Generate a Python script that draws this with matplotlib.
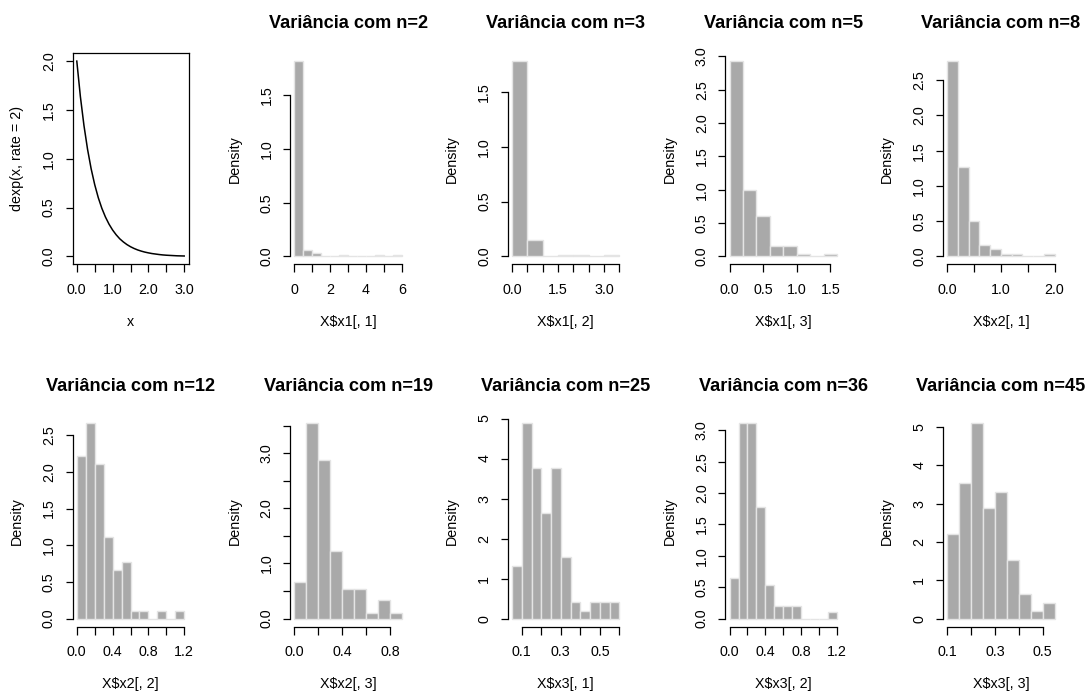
import matplotlib

matplotlib.use("Agg")
import matplotlib.pyplot as plt
import numpy as np

plt.rcParams["font.family"] = ["Liberation Sans", "DejaVu Sans"]

# --- data ------------------------------------------------------------------
# panel 1: curve dexp(x, rate = 2)
curve_x = [0.0, 0.1, 0.2, 0.3, 0.4, 0.5, 0.6, 0.7, 0.8, 0.9, 1.0,
           1.1, 1.2, 1.3, 1.4, 1.5, 1.6, 1.7, 1.8, 1.9, 2.0,
           2.1, 2.2, 2.3, 2.4, 2.5, 2.6, 2.7, 2.8, 2.9, 3.0]
curve_y = [2.000, 1.637, 1.341, 1.098, 0.899, 0.736, 0.602, 0.493, 0.404, 0.331, 0.271,
           0.222, 0.181, 0.149, 0.122, 0.100, 0.082, 0.067, 0.055, 0.045, 0.037,
           0.030, 0.025, 0.020, 0.016, 0.013, 0.011, 0.009, 0.007, 0.006, 0.005]

# histogram panels: sample size, bin edges, densities, x label
sizes = [2, 3, 5, 8, 12, 19, 25, 36, 45]
xlabels = ["X$x1[, 1]", "X$x1[, 2]", "X$x1[, 3]", "X$x2[, 1]", "X$x2[, 2]",
           "X$x2[, 3]", "X$x3[, 1]", "X$x3[, 2]", "X$x3[, 3]"]

edges_n2 = [0.0, 0.5, 1.0, 1.5, 2.0, 2.5, 3.0, 3.5, 4.0, 4.5, 5.0, 5.5, 6.0]
dens_n2 = [1.82, 0.062, 0.037, 0, 0, 0.01, 0, 0, 0, 0.01, 0, 0.01]

edges_n3 = [0.0, 0.5, 1.0, 1.5, 2.0, 2.5, 3.0, 3.5]
dens_n3 = [1.78, 0.153, 0, 0.01, 0.01, 0, 0.01]

edges_n5 = [0.0, 0.2, 0.4, 0.6, 0.8, 1.0, 1.2, 1.4, 1.6]
dens_n5 = [2.93, 0.99, 0.60, 0.16, 0.16, 0.04, 0, 0.04]

edges_n8 = [0.0, 0.2, 0.4, 0.6, 0.8, 1.0, 1.2, 1.4, 1.6, 1.8, 2.0]
dens_n8 = [2.77, 1.27, 0.50, 0.16, 0.10, 0.04, 0.04, 0, 0, 0.04]

edges_n12 = [0.0, 0.1, 0.2, 0.3, 0.4, 0.5, 0.6, 0.7, 0.8, 0.9, 1.0, 1.1, 1.2]
dens_n12 = [2.22, 2.66, 2.11, 1.11, 0.66, 0.77, 0.11, 0.11, 0, 0.11, 0, 0.11]

edges_n19 = [0.0, 0.1, 0.2, 0.3, 0.4, 0.5, 0.6, 0.7, 0.8, 0.9]
dens_n19 = [0.66, 3.54, 2.87, 1.22, 0.54, 0.54, 0.10, 0.33, 0.10]

edges_n25 = [0.05, 0.10, 0.15, 0.20, 0.25, 0.30, 0.35, 0.40, 0.45, 0.50, 0.55, 0.60]
dens_n25 = [1.32, 4.88, 3.76, 2.64, 3.76, 1.54, 0.42, 0.20, 0.42, 0.42, 0.42]

edges_n36 = [0.0, 0.1, 0.2, 0.3, 0.4, 0.5, 0.6, 0.7, 0.8, 0.9, 1.0, 1.1, 1.2]
dens_n36 = [0.65, 3.11, 3.11, 1.77, 0.54, 0.20, 0.20, 0.20, 0, 0, 0, 0.10]

edges_n45 = [0.10, 0.15, 0.20, 0.25, 0.30, 0.35, 0.40, 0.45, 0.50, 0.55]
dens_n45 = [2.21, 3.54, 5.10, 2.88, 3.32, 1.54, 0.65, 0.19, 0.42]

all_edges = [edges_n2, edges_n3, edges_n5, edges_n8, edges_n12,
             edges_n19, edges_n25, edges_n36, edges_n45]
all_dens = [dens_n2, dens_n3, dens_n5, dens_n8, dens_n12,
            dens_n19, dens_n25, dens_n36, dens_n45]

# axis ticks (R style: every tick drawn, some labels dropped for overlap)
xticks = [np.arange(0, 6.01, 1), np.arange(0, 3.51, 0.5), np.arange(0, 1.51, 0.5),
          np.arange(0, 2.01, 0.5), np.arange(0, 1.21, 0.2), np.arange(0, 0.81, 0.2),
          np.arange(0.1, 0.61, 0.1), np.arange(0, 1.21, 0.2), np.arange(0.1, 0.51, 0.1)]
xticklabels = [["0", "", "2", "", "4", "", "6"],
               ["0.0", "", "", "1.5", "", "", "3.0", ""],
               ["0.0", "0.5", "1.0", "1.5"],
               ["0.0", "", "1.0", "", "2.0"],
               ["0.0", "", "0.4", "", "0.8", "", "1.2"],
               ["0.0", "", "0.4", "", "0.8"],
               ["0.1", "", "0.3", "", "0.5", ""],
               ["0.0", "", "0.4", "", "0.8", "", "1.2"],
               ["0.1", "", "0.3", "", "0.5"]]
yticks = [np.arange(0, 1.51, 0.5), np.arange(0, 1.51, 0.5), np.arange(0, 3.01, 0.5),
          np.arange(0, 2.51, 0.5), np.arange(0, 2.51, 0.5), np.arange(0, 3.51, 0.5),
          np.arange(0, 5.01, 1), np.arange(0, 3.01, 0.5), np.arange(0, 5.01, 1)]
yticklabels = [["0.0", "0.5", "1.0", "1.5"],
               ["0.0", "0.5", "1.0", "1.5"],
               ["0.0", "0.5", "1.0", "1.5", "2.0", "2.5", "3.0"],
               ["0.0", "0.5", "1.0", "1.5", "2.0", "2.5"],
               ["0.0", "0.5", "1.0", "1.5", "2.0", "2.5"],
               ["0.0", "", "1.0", "", "2.0", "", "3.0", ""],
               ["0", "1", "2", "3", "4", "5"],
               ["0.0", "0.5", "1.0", "1.5", "2.0", "2.5", "3.0"],
               ["0", "1", "2", "3", "4", "5"]]

# --- layout ----------------------------------------------------------------
W, H = 1086, 693
fig = plt.figure(figsize=(W / 100, H / 100), dpi=100)

FS = 10.3
LW = 0.9
BAR = "#a9a9a9"
EDGE = "#e4e4e4"


def panel_axes(i):
    row, col = divmod(i, 5)
    left = 72.5 + 217.6 * col
    top = 53.3 + 362.2 * row
    return fig.add_axes([left / W, 1 - (top + 211) / H, 116 / W, 211 / H])


def r_range(lo, hi):
    pad = 0.04 * (hi - lo)
    return lo - pad, hi + pad


def style(ax):
    ax.tick_params(direction="out", length=5.4, width=LW, labelsize=FS, color="black")
    ax.tick_params(axis="x", pad=8)
    ax.tick_params(axis="y", pad=6.5)
    for lab in ax.get_yticklabels():
        lab.set_rotation(90)
        lab.set_va("center")


# panel 1: the exponential density curve
ax = panel_axes(0)
ax.plot(curve_x, curve_y, color="black", lw=1.1)
ax.set_xlim(*r_range(curve_x[0], curve_x[-1]))
ax.set_ylim(*r_range(0, max(curve_y)))
ax.set_xticks(np.arange(0, 3.01, 0.5))
ax.set_xticklabels(["0.0", "", "1.0", "", "2.0", "", "3.0"])
ax.set_yticks(np.arange(0, 2.01, 0.5))
ax.set_yticklabels(["0.0", "0.5", "1.0", "1.5", "2.0"])
for sp in ax.spines.values():
    sp.set_linewidth(LW)
style(ax)
ax.set_xlabel("x", fontsize=FS, labelpad=13)
ax.set_ylabel("dexp(x, rate = 2)", fontsize=FS, labelpad=13)

# histogram panels
for k in range(9):
    ax = panel_axes(k + 1)
    e = np.array(all_edges[k])
    d = np.array(all_dens[k])
    ax.bar(e[:-1], d, width=np.diff(e), align="edge", color=BAR,
           edgecolor=EDGE, linewidth=1.0)
    ax.set_xlim(*r_range(e[0], e[-1]))
    ax.set_ylim(*r_range(0, d.max()))
    ax.set_xticks(xticks[k])
    ax.set_xticklabels(xticklabels[k])
    ax.set_yticks(yticks[k])
    ax.set_yticklabels(yticklabels[k])
    ax.spines["top"].set_visible(False)
    ax.spines["right"].set_visible(False)
    ax.spines["bottom"].set_bounds(xticks[k][0], xticks[k][-1])
    ax.spines["left"].set_bounds(yticks[k][0], yticks[k][-1])
    ax.spines["bottom"].set_linewidth(LW)
    ax.spines["left"].set_linewidth(LW)
    style(ax)
    ax.set_title(f"Variância com n={sizes[k]}", fontsize=13.1, fontweight="bold", pad=18)
    ax.set_xlabel(xlabels[k], fontsize=FS, labelpad=13)
    ax.set_ylabel("Density", fontsize=FS, labelpad=13)

fig.savefig("out.png", dpi=100)
